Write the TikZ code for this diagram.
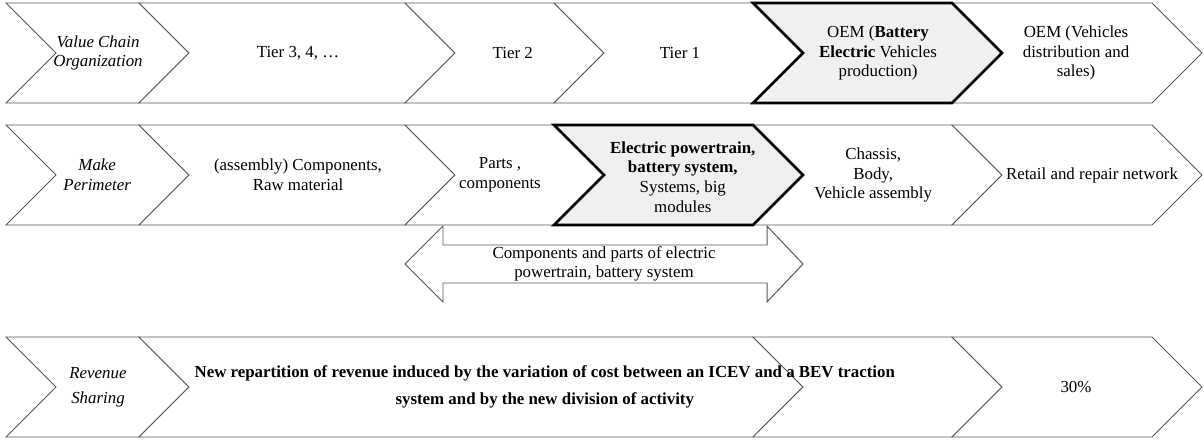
\documentclass[tikz,border=0pt]{standalone}
\usepackage{fontspec}
\setmainfont{Liberation Serif}
\usepackage{tikz}
\newcommand{\chevbox}[4][]{%
  \draw[#1] (#2,#4+1.25) -- (#3,#4+1.25) -- (#3+1.25,#4) -- (#3,#4-1.25) -- (#2,#4-1.25) -- (#2+1.25,#4) -- cycle;}
\tikzset{
  chev/.style={draw=black!65, line width=0.7pt, fill=white},
  hichev/.style={draw=black, line width=1.8pt, fill=black!6},
  lbl/.style={align=center, inner sep=0pt, font=\fontsize{12}{13.9}\selectfont}
}

\begin{document}
\begin{tikzpicture}
    \useasboundingbox (0,0) rectangle (30.1,11.025);
    % value chain row
    \chevbox[chev]{0.15}{3.475}{9.7}
    \chevbox[chev]{3.475}{10.125}{9.7}
    \chevbox[chev]{10.125}{13.85}{9.7}
    \chevbox[chev]{13.85}{18.825}{9.7}
    \chevbox[chev]{23.8}{28.8}{9.7}
    \chevbox[hichev]{18.825}{23.8}{9.7}
    \node[lbl] (VCO) at (2.45, 9.7){\textit{Value Chain}\\\textit{Organization}};
    \node[lbl] (T34) at (7.45, 9.7){Tier 3, 4, …};
    \node[lbl] (T2) at (12.82, 9.7){Tier 2};
    \node[lbl] (T1) at (17.0, 9.7){Tier 1};
    \node[lbl] (OEMB) at (21.95, 9.7){OEM (\textbf{Battery}\\\textbf{Electric} Vehicles\\production)};
    \node[lbl] (OEMV) at (26.9, 9.7){OEM (Vehicles\\distribution and\\sales)};
    % make perimeter row
    \chevbox[chev]{0.15}{3.475}{6.65}
    \chevbox[chev]{3.475}{10.125}{6.65}
    \chevbox[chev]{10.125}{13.85}{6.65}
    \chevbox[chev]{18.825}{23.8}{6.65}
    \chevbox[chev]{23.8}{28.8}{6.65}
    \chevbox[hichev]{13.85}{18.825}{6.65}
    \node[lbl] (MP) at (2.43, 6.65){\textit{Make}\\\textit{Perimeter}};
    \node[lbl] (ASM) at (7.45, 6.65){(assembly) Components,\\Raw material};
    \node[lbl] (PC) at (12.5, 6.65){Parts ,\\components};
    \node[lbl] (EPT) at (17.07, 6.6){\textbf{Electric powertrain,}\\\textbf{battery system,}\\Systems, big\\modules};
    \node[lbl] (CBV) at (21.83, 6.65){Chassis,\\Body,\\Vehicle assembly};
    \node[lbl] (RRN) at (27.3, 6.65){Retail and repair network};
    % double arrow
    \draw[chev] (10.125,4.425) -- (11.075,5.375) -- (11.075,4.9) -- (19.175,4.9) -- (19.175,5.375)
      -- (20.075,4.425) -- (19.175,3.475) -- (19.175,3.95) -- (11.075,3.95) -- (11.075,3.475) -- cycle;
    \node[lbl, font=\fontsize{12}{13}\selectfont] (CPE) at (15.1, 4.425){Components and parts of electric\\powertrain, battery system};
    % revenue row
    \chevbox[chev]{0.15}{3.475}{1.35}
    \chevbox[chev]{3.475}{18.825}{1.35}
    \chevbox[chev]{18.825}{23.8}{1.35}
    \chevbox[chev]{23.8}{28.8}{1.35}
    \node[lbl, font=\fontsize{12}{17.8}\selectfont] (RS) at (2.45, 1.35){\textit{Revenue}\\\textit{Sharing}};
    \node[lbl, font=\fontsize{12}{19.2}\selectfont\bfseries] (NR) at (13.62, 1.35){New repartition of revenue induced by the variation of cost between an ICEV and a BEV traction\\system and by the new division of activity};
    \node[lbl] (P30) at (26.9, 1.35){30\%};
  \end{tikzpicture}
\end{document}
